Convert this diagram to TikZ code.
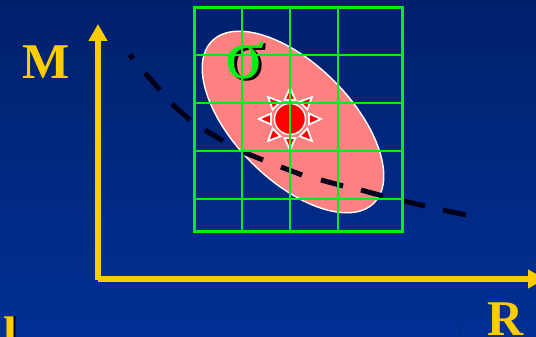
\documentclass[tikz,border=0pt]{standalone}
\usepackage{fontspec}
\setmainfont{Liberation Serif}
\usetikzlibrary{arrows.meta}
\definecolor{axisyellow}{RGB}{255,204,0}
\definecolor{gridgreen}{RGB}{0,240,20}
\definecolor{ellipsepink}{RGB}{255,128,128}
\definecolor{bgtop}{RGB}{0,32,108}
\definecolor{bgbottom}{RGB}{0,48,148}
\tikzset{
	axisline/.style={draw=axisyellow, line width=6pt, -{Triangle[length=17pt,width=18pt]}},
	axislabel/.style={text=axisyellow, anchor=base west, inner sep=0pt, font=\fontsize{50}{50}\selectfont\bfseries},
	sigmalabel/.style={anchor=base west, inner sep=0pt, font=\fontsize{72}{72}\selectfont},
	gridline/.style={draw=gridgreen, line width=2pt},
	dashline/.style={draw=black!90!blue, line width=5pt},
	ray/.style={draw=white, fill=red, line width=1.8pt, line join=miter}
}
\begin{document}
\begin{tikzpicture}[x=1pt,y=-1pt]
	\useasboundingbox (0,0) rectangle (536,337);
	\clip (0,0) rectangle (536,337);
	\shade[top color=bgtop, bottom color=bgbottom] (0,0) rectangle (536,337);
	\draw[bgtop!40!bgbottom, line width=0.8pt] (442,296) .. controls (452,306) and (458,322) .. (462,337);

	\draw[white, fill=ellipsepink, line width=1.4pt, rotate around={-45:(293,122)}] (293,122) ellipse [x radius=114.5pt, y radius=58pt];

	% dashes of the curve
	\foreach \xa/\ya/\xb/\yb in {129/58/134/55, 145/73/160/90, 172/104/190/120, 205/130/223/141, 243/152/263/160, 281/167/302/175, 321/180/343/186, 361/190/383/196, 404/201/425/206, 443/210/466/215}
		\draw[dashline] (\xa,\ya) -- (\xb,\yb);

	% axes
	\coordinate (ybottom) at (98,280);
	\coordinate (ytop) at (98,24);
	\coordinate (xstart) at (98,279);
	\coordinate (xend) at (545,279);
	\draw[axisline] (ybottom) -- (ytop);
	\draw[axisline] (xstart) -- (xend);

	\node[axislabel] (labM) at (22,78) {M};
	\node[axislabel] (labR) at (487,335) {R};
	\node[axislabel, text=black] (labLs) at (5,351) {l};
	\node[axislabel] (labL) at (3,351) {l};

	% sun
	\foreach \a in {0,45,...,315}
		\draw[ray, rotate around={\a:(290,119)}] (321,119) -- (309,113.5) -- (309,124.5) -- cycle;
	\draw[white, fill=red, line width=1.4pt] (290,119) circle (15.5pt);

	\node[sigmalabel, text=black] (sigmas) at (228,81) {σ};
	\node[sigmalabel, text=gridgreen] (sigma) at (225,78) {σ};

	% grid
	\foreach \x in {242,290,338} \draw[gridline] (\x,8) -- (\x,231);
	\foreach \y in {55,103,151,199} \draw[gridline] (194,\y) -- (402,\y);
	\draw[gridline, line width=3pt] (194,8) rectangle (402,231);
\end{tikzpicture}
\end{document}
